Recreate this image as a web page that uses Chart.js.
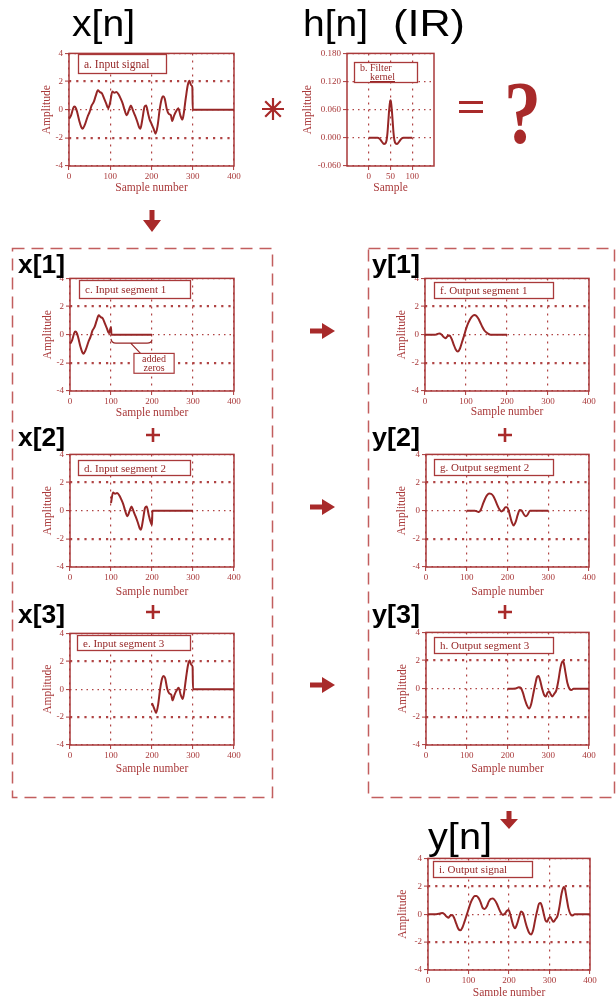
<!DOCTYPE html>
<html><head><meta charset="utf-8">
<script src="https://cdn.jsdelivr.net/npm/chart.js@4"></script>
<style>
html,body{margin:0;padding:0;background:#fff;}
#page{position:relative;width:616px;height:996px;overflow:hidden;background:#fff;}
#page canvas{position:absolute;}
#deco{position:absolute;left:0;top:0;pointer-events:none;}
</style></head><body><div id="page"></div>
<script>
// ---------- data ----------
const inputX = [0,5,10,13,17,20,25,30,33,38,45,50,55,60,65,70,75,80,85,90,95,100,105,110,115,120,125,130,135,140,145,150,155,160,165,170,173,178,183,187,192,195,200,205,210,215,220,225,228,232,237,242,247,250,255,260,265,270,275,278,283,288,292,296,299,300,400];
const inputY = [-0.65,-0.4,0.1,0.22,0.1,-0.2,-0.8,-1.25,-1.35,-1.1,-0.5,-0.15,0.3,0.55,1.0,1.38,1.25,1.15,0.8,0.45,0.1,0.55,1.3,1.2,1.25,1.1,0.8,0.45,-0.05,-0.4,-0.05,0.3,-0.05,-0.4,-0.8,-1.25,-1.35,-0.65,0.2,0.3,-0.3,-0.65,-1.0,-1.35,-1.7,-1.1,0.05,0.8,0.95,0.8,0.05,-0.3,-0.4,-0.8,-0.4,-0.1,0.1,-0.4,-0.7,-0.3,0.8,1.75,2.05,1.75,1.6,0,0];

const kernelX = [0,10,20,25,30,35,38,41,43,45,47,49,50,51,53,55,57,59,62,65,70,75,80,90,100];
const kernelY = [0,0,0,-0.002,-0.008,-0.013,-0.012,-0.005,0.01,0.035,0.06,0.077,0.08,0.077,0.06,0.035,0.01,-0.005,-0.012,-0.013,-0.008,-0.002,0,0,0];

const out1X = [0,25,30,35,40,45,50,55,60,65,70,75,80,85,90,95,100,105,110,115,120,125,130,135,140,145,150,155,160,200];
const out1Y = [0,0,0.05,0.08,0.02,-0.15,-0.25,-0.1,-0.05,-0.3,-0.7,-1.05,-1.2,-1.0,-0.55,-0.1,0.4,0.8,1.1,1.3,1.4,1.35,1.15,0.85,0.55,0.3,0.15,0.05,0,0];

const out2X = [100,120,125,130,135,140,145,150,155,160,165,170,175,180,185,190,195,199,203,207,211,215,220,225,230,235,240,245,250,255,260,300];
const out2Y = [0,0,-0.05,-0.1,0.1,0.5,0.85,1.1,1.22,1.2,1.05,0.75,0.4,0.1,-0.05,0.05,0.25,0.25,0.0,-0.45,-0.85,-1.05,-0.8,-0.3,0.05,0.0,-0.25,-0.4,-0.25,0.0,0,0];

const out3X = [200,220,228,233,238,243,248,253,258,263,268,272,276,280,285,290,294,298,302,306,310,315,320,325,330,335,338,342,347,352,357,362,400];
const out3Y = [0,0.02,0.1,0.05,-0.3,-0.8,-1.2,-1.4,-1.1,-0.4,0.3,0.8,0.9,0.6,0.0,-0.45,-0.55,-0.3,-0.2,-0.4,-0.55,-0.35,-0.1,0.6,1.5,1.95,1.85,1.2,0.4,0.0,-0.1,0,0];

const outX = [0,20,30,35,40,45,50,55,60,65,70,75,80,85,90,95,100,105,110,115,120,125,130,135,140,145,150,155,160,165,170,175,180,185,190,195,199,203,207,211,215,220,225,230,235,240,245,250,255,260,265,270,274,278,282,286,290,294,298,302,306,310,315,320,325,330,335,338,342,347,352,357,362,400];
const outY = [0,0,0.05,0.08,0.02,-0.15,-0.25,-0.1,-0.05,-0.3,-0.7,-1.05,-1.15,-0.95,-0.55,-0.1,0.35,0.8,1.1,1.3,1.3,1.15,0.85,0.45,0.38,0.55,0.9,1.1,1.12,1.0,0.75,0.4,0.1,-0.05,0.05,0.25,0.3,0.0,-0.45,-0.85,-1.0,-0.7,-0.2,0.2,0.05,-0.5,-1.0,-1.35,-1.45,-1.1,-0.35,0.3,0.75,0.8,0.5,0.0,-0.45,-0.55,-0.3,-0.2,-0.4,-0.55,-0.35,-0.1,0.6,1.5,1.95,1.85,1.2,0.4,0.0,-0.1,0,0];

const ampTicks = [-4,-2,0,2,4];
const ampLabels = ['-4','-2','0','2','4'];
const sampleTicks = [0,100,200,300,400];
const sampleLabels = ['0','100','200','300','400'];
const kernelAmpTicks = [-0.06,0,0.06,0.12,0.18];
const kernelAmpLabels = ['-0.060','0.000','0.060','0.120','0.180'];
const kernelSampleTicks = [0,50,100];
const kernelSampleLabels = ['0','50','100'];

// ---------- helpers ----------
const RED = '#a9393a', LINE = '#962626', GRID = '#b04444';
const page = document.getElementById('page');
const pts = (xs, ys) => xs.map((x, i) => ({x, y: ys[i]}));
function segment(xs, ys, lo, hi, end) {
  const p = [];
  xs.forEach((x, i) => { if (x >= lo && x <= hi) p.push({x, y: ys[i]}); });
  if (hi < 300) p.push({x: hi + 1, y: 0});
  p.push({x: end, y: 0});
  return p;
}
const framePlugin = {id: 'frame', beforeDatasetsDraw(chart) {
  const {ctx, chartArea: a} = chart;
  ctx.save(); ctx.strokeStyle = RED; ctx.lineWidth = 1.5; ctx.setLineDash([]);
  ctx.strokeRect(a.left, a.top, a.right - a.left, a.bottom - a.top); ctx.restore();
}};

function makeChart(rect, data, o) {
  const padL = 48, padT = 6, padR = 9, padB = 34;
  const W = rect[2] - rect[0] + padL + padR, H = rect[3] - rect[1] + padT + padB;
  const c = document.createElement('canvas');
  c.width = W; c.height = H;
  c.style.left = (rect[0] - padL) + 'px'; c.style.top = (rect[1] - padT) + 'px';
  c.style.width = W + 'px'; c.style.height = H + 'px';
  page.appendChild(c);
  const tf = 11.5, lh = tf * 1.2;
  const tickFont = {family: "'Liberation Serif', serif", size: 9};
  new Chart(c, {
    type: 'line',
    data: {datasets: [{data, borderColor: LINE, borderWidth: 2, pointRadius: 0,
      cubicInterpolationMode: 'monotone', fill: false}]},
    options: {
      responsive: false, animation: false, devicePixelRatio: 1,
      layout: {padding: {left: 0, top: padT, right: padR, bottom: 0}},
      plugins: {legend: {display: false}, tooltip: {enabled: false}},
      scales: {
        x: {type: 'linear', min: o.xr[0], max: o.xr[1],
          afterBuildTicks: s => { s.ticks = o.xt.map(v => ({value: v})); },
          afterFit: s => { s.height = padB; },
          ticks: {callback: (v, i) => o.xl[i], color: RED, font: tickFont, padding: 1, maxRotation: 0, autoSkip: false},
          grid: {color: GRID, lineWidth: 1.2, tickLength: 4, tickColor: RED, tickWidth: 1},
          border: {display: false, dash: [2, 5]},
          title: {display: true, text: o.xTitle, color: RED,
            font: {family: "'Liberation Serif', serif", size: tf},
            padding: {top: 0, bottom: padB - o.xGap - lh / 2}}},
        y: {type: 'linear', min: o.yr[0], max: o.yr[1],
          afterBuildTicks: s => { s.ticks = o.yt.map(v => ({value: v})); },
          afterFit: s => { s.width = padL; },
          ticks: {callback: (v, i) => o.yl[i], color: RED, font: tickFont, padding: 2, autoSkip: false},
          grid: {color: GRID, lineWidth: ctx => (ctx.tick && Math.abs(ctx.tick.value) === o.heavy ? 2.2 : 1.2),
            tickLength: 4, tickColor: RED, tickWidth: 1},
          border: {display: false, dash: ctx => (ctx.tick && Math.abs(ctx.tick.value) === o.heavy ? [2.2, 5] : [1.5, 4])},
          title: {display: true, text: 'Amplitude', color: RED,
            font: {family: "'Liberation Serif', serif", size: tf},
            padding: {top: padL - o.yGap - lh / 2, bottom: 0}}}
      }
    },
    plugins: [framePlugin].concat(o.extra || [])
  });
}

const zerosNote = {id: 'zeros', afterDatasetsDraw(chart) {
  const X = v => chart.scales.x.getPixelForValue(v), Y = v => chart.scales.y.getPixelForValue(v);
  const ctx = chart.ctx;
  ctx.save(); ctx.strokeStyle = LINE; ctx.lineWidth = 1.2; ctx.setLineDash([]);
  ctx.beginPath();
  ctx.moveTo(X(100), Y(-0.3));
  ctx.quadraticCurveTo(X(101), Y(-0.6), X(112), Y(-0.6));
  ctx.lineTo(X(188), Y(-0.6));
  ctx.quadraticCurveTo(X(199), Y(-0.6), X(200), Y(-0.35));
  ctx.moveTo(X(148), Y(-0.6)); ctx.lineTo(X(172), Y(-1.33));
  ctx.stroke();
  const x0 = X(156), x1 = X(254), y0 = Y(-1.33), y1 = Y(-2.74);
  ctx.fillStyle = '#fff'; ctx.fillRect(x0, y0, x1 - x0, y1 - y0);
  ctx.strokeStyle = RED; ctx.strokeRect(x0, y0, x1 - x0, y1 - y0);
  ctx.fillStyle = LINE; ctx.font = "10px 'Liberation Serif', serif"; ctx.textAlign = 'center'; ctx.textBaseline = 'alphabetic';
  ctx.fillText('added', (x0 + x1) / 2, y0 + 9);
  ctx.fillText('zeros', (x0 + x1) / 2, y0 + 18);
  ctx.restore();
}};

const std = {xr: [0, 400], yr: [-4, 4], xt: sampleTicks, xl: sampleLabels, yt: ampTicks, yl: ampLabels, xTitle: 'Sample number', heavy: 2};

makeChart([69, 52, 234, 166], pts(inputX, inputY), {...std, yGap: 22, xGap: 22});
makeChart([347, 52, 434, 166], pts(kernelX, kernelY), {xr: [-50, 150], yr: [-0.06, 0.18], xt: kernelSampleTicks, xl: kernelSampleLabels,
  yt: kernelAmpTicks, yl: kernelAmpLabels, xTitle: 'Sample', heavy: -1, yGap: 39, xGap: 22});
makeChart([70, 277, 234, 391], segment(inputX, inputY, 0, 100, 200), {...std, yGap: 22, xGap: 22, extra: [zerosNote]});
makeChart([425, 277, 589, 391], pts(out1X, out1Y), {...std, yGap: 23, xGap: 21});
makeChart([70, 453, 234, 567], segment(inputX, inputY, 100, 200, 300), {...std, yGap: 22, xGap: 25});
makeChart([426, 453, 589, 567], pts(out2X, out2Y), {...std, yGap: 24, xGap: 25});
makeChart([70, 632, 234, 745], segment(inputX, inputY, 200, 300, 400), {...std, yGap: 22, xGap: 24});
makeChart([426, 631, 589, 745], pts(out3X, out3Y), {...std, yGap: 23, xGap: 24});
makeChart([428, 857, 590, 970], pts(outX, outY), {...std, yGap: 25, xGap: 23});

// ---------- decorations ----------
const NS = 'http://www.w3.org/2000/svg';
const svg = document.createElementNS(NS, 'svg');
svg.setAttribute('id', 'deco'); svg.setAttribute('width', 616); svg.setAttribute('height', 996);
let s = '';
s += '<g fill="none" stroke="#c25e5e" stroke-width="1.5" stroke-dasharray="12 7">' +
  '<rect x="12.5" y="248.5" width="260" height="549"/><rect x="368.5" y="248.5" width="246" height="549"/></g>';
const boxes = [
  [78, 54, 166, 73, ['a. Input signal'], 11.5],
  [79, 280, 190, 298, ['c. Input segment 1'], 11],
  [434, 282, 553, 298, ['f. Output segment 1'], 11],
  [78, 460, 190, 475, ['d. Input segment 2'], 11],
  [434, 459, 553, 475, ['g. Output segment 2'], 11],
  [77, 635, 190, 650, ['e. Input segment 3'], 11],
  [434, 637, 553, 653, ['h. Output segment 3'], 11],
  [433, 861, 532, 877, ['i. Output signal'], 11]
];
boxes.forEach(b => {
  s += `<rect x="${b[0] + 0.5}" y="${b[1] + 0.5}" width="${b[2] - b[0]}" height="${b[3] - b[1]}" fill="#fff" stroke="${RED}" stroke-width="1.3"/>`;
  s += `<text x="${b[0] + 6}" y="${(b[1] + b[3]) / 2 + 4}" font-family="Liberation Serif, serif" font-size="${b[5]}" fill="${LINE}">${b[4][0]}</text>`;
});
s += `<rect x="354.5" y="62.5" width="63" height="20" fill="#fff" stroke="${RED}" stroke-width="1.3"/>`;
s += `<text x="360" y="71" font-family="Liberation Serif, serif" font-size="10" fill="${LINE}">b. Filter</text>`;
s += `<text x="370" y="80" font-family="Liberation Serif, serif" font-size="10" fill="${LINE}" text-decoration="underline">kernel</text>`;

const big = (x, y, w, txt, size, weight) =>
  `<text x="${x}" y="${y}" font-family="Liberation Sans, Arial, sans-serif" font-size="${size}" font-weight="${weight}" fill="#000" textLength="${w}" lengthAdjust="spacingAndGlyphs">${txt}</text>`;
s += big(72, 36, 63, 'x[n]', 36, 400);
s += big(303, 36, 65, 'h[n]', 36, 400);
s += big(393, 36, 72, '(IR)', 36, 400);
s += big(428, 849, 64, 'y[n]', 36, 400);
s += big(18, 273, 47, 'x[1]', 25, 700);
s += big(372, 273, 48, 'y[1]', 25, 700);
s += big(18, 446, 47, 'x[2]', 25, 700);
s += big(372, 446, 48, 'y[2]', 25, 700);
s += big(18, 623, 47, 'x[3]', 25, 700);
s += big(372, 623, 48, 'y[3]', 25, 700);

const AR = '#a82a2a';
// arrows
s += `<path d="M149.5 210 h5 v10 h6.5 l-9 12 l-9 -12 h6.5 z" fill="${AR}"/>`;
[331, 507, 685].forEach(cy => {
  s += `<path d="M310 ${cy - 2.5} h12 v-5.5 l13 8 l-13 8 v-5.5 h-12 z" fill="${AR}"/>`;
});
s += `<path d="M506.5 811 h5 v8 h6.5 l-9 10 l-9 -10 h6.5 z" fill="${AR}"/>`;
// plus signs
[[153, 435], [505, 435], [153, 612], [505, 612]].forEach(p => {
  s += `<path d="M${p[0] - 7} ${p[1]} h14 M${p[0]} ${p[1] - 7} v14" stroke="${AR}" stroke-width="2.6" fill="none"/>`;
});
// asterisk
s += `<g stroke="${AR}" stroke-width="2.2" fill="none"><path d="M262 109 h22 M273 98 v22 M265.2 101.2 l15.6 15.6 M280.8 101.2 l-15.6 15.6"/></g>`;
// equals
s += `<rect x="459" y="101" width="24" height="3" fill="${AR}"/><rect x="459" y="110" width="24" height="3" fill="${AR}"/>`;
// question mark
s += `<text x="504" y="142" font-family="Liberation Serif, serif" font-size="88" font-weight="700" fill="${AR}" textLength="37" lengthAdjust="spacingAndGlyphs">?</text>`;
svg.innerHTML = s;
page.appendChild(svg);
</script>
</body></html>
